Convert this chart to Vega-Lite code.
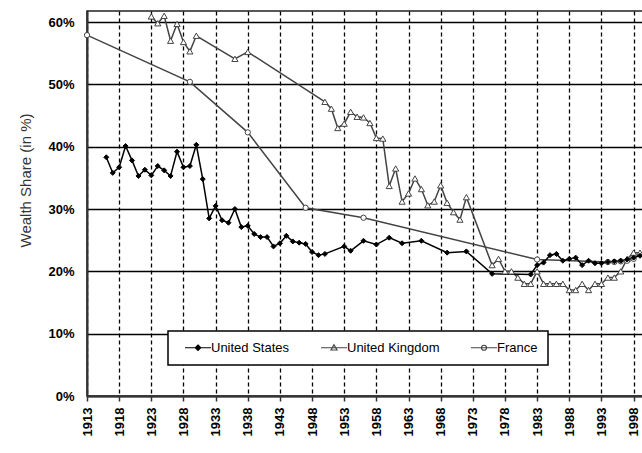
{
  "$schema": "https://vega.github.io/schema/vega-lite/v6.json",
  "width": 557,
  "height": 385,
  "autosize": "none",
  "padding": {"left": 87, "top": 11, "right": -2, "bottom": 57},
  "background": "white",
  "config": {
    "font": "Liberation Sans",
    "view": {"stroke": "#222", "strokeWidth": 1.5}
  },
  "data": {
    "values": [
      {"country": "France", "year": 1913, "share": 57.9},
      {"country": "France", "year": 1929, "share": 50.4},
      {"country": "France", "year": 1938, "share": 42.3},
      {"country": "France", "year": 1947, "share": 30.2},
      {"country": "France", "year": 1956, "share": 28.6},
      {"country": "France", "year": 1983, "share": 21.9},
      {"country": "France", "year": 1994, "share": 21.5},
      {"country": "France", "year": 1995, "share": 21.5},
      {"country": "France", "year": 1996, "share": 21.6},
      {"country": "France", "year": 1997, "share": 21.7},
      {"country": "France", "year": 1998, "share": 22.0},
      {"country": "United Kingdom", "year": 1923, "share": 60.9},
      {"country": "United Kingdom", "year": 1924, "share": 59.8},
      {"country": "United Kingdom", "year": 1925, "share": 61.0},
      {"country": "United Kingdom", "year": 1926, "share": 57.0},
      {"country": "United Kingdom", "year": 1927, "share": 59.7},
      {"country": "United Kingdom", "year": 1928, "share": 56.8},
      {"country": "United Kingdom", "year": 1929, "share": 55.3},
      {"country": "United Kingdom", "year": 1930, "share": 57.8},
      {"country": "United Kingdom", "year": 1936, "share": 54.1},
      {"country": "United Kingdom", "year": 1938, "share": 55.2},
      {"country": "United Kingdom", "year": 1950, "share": 47.2},
      {"country": "United Kingdom", "year": 1951, "share": 46.1},
      {"country": "United Kingdom", "year": 1952, "share": 43.0},
      {"country": "United Kingdom", "year": 1953, "share": 43.7},
      {"country": "United Kingdom", "year": 1954, "share": 45.6},
      {"country": "United Kingdom", "year": 1955, "share": 44.8},
      {"country": "United Kingdom", "year": 1956, "share": 44.7},
      {"country": "United Kingdom", "year": 1957, "share": 43.8},
      {"country": "United Kingdom", "year": 1958, "share": 41.4},
      {"country": "United Kingdom", "year": 1959, "share": 41.3},
      {"country": "United Kingdom", "year": 1960, "share": 33.7},
      {"country": "United Kingdom", "year": 1961, "share": 36.5},
      {"country": "United Kingdom", "year": 1962, "share": 31.2},
      {"country": "United Kingdom", "year": 1963, "share": 32.5},
      {"country": "United Kingdom", "year": 1964, "share": 34.9},
      {"country": "United Kingdom", "year": 1965, "share": 33.2},
      {"country": "United Kingdom", "year": 1966, "share": 30.6},
      {"country": "United Kingdom", "year": 1967, "share": 31.2},
      {"country": "United Kingdom", "year": 1968, "share": 33.8},
      {"country": "United Kingdom", "year": 1969, "share": 31.0},
      {"country": "United Kingdom", "year": 1970, "share": 29.5},
      {"country": "United Kingdom", "year": 1971, "share": 28.3},
      {"country": "United Kingdom", "year": 1972, "share": 31.9},
      {"country": "United Kingdom", "year": 1976, "share": 21},
      {"country": "United Kingdom", "year": 1977, "share": 22},
      {"country": "United Kingdom", "year": 1978, "share": 20},
      {"country": "United Kingdom", "year": 1979, "share": 20},
      {"country": "United Kingdom", "year": 1980, "share": 19},
      {"country": "United Kingdom", "year": 1981, "share": 18},
      {"country": "United Kingdom", "year": 1982, "share": 18},
      {"country": "United Kingdom", "year": 1983, "share": 20},
      {"country": "United Kingdom", "year": 1984, "share": 18},
      {"country": "United Kingdom", "year": 1985, "share": 18},
      {"country": "United Kingdom", "year": 1986, "share": 18},
      {"country": "United Kingdom", "year": 1987, "share": 18},
      {"country": "United Kingdom", "year": 1988, "share": 17},
      {"country": "United Kingdom", "year": 1989, "share": 17},
      {"country": "United Kingdom", "year": 1990, "share": 18},
      {"country": "United Kingdom", "year": 1991, "share": 17},
      {"country": "United Kingdom", "year": 1992, "share": 18},
      {"country": "United Kingdom", "year": 1993, "share": 18},
      {"country": "United Kingdom", "year": 1994, "share": 19},
      {"country": "United Kingdom", "year": 1995, "share": 19},
      {"country": "United Kingdom", "year": 1996, "share": 20},
      {"country": "United Kingdom", "year": 1997, "share": 22},
      {"country": "United Kingdom", "year": 1998, "share": 23},
      {"country": "United Kingdom", "year": 1999, "share": 23},
      {"country": "United States", "year": 1916, "share": 38.3},
      {"country": "United States", "year": 1917, "share": 35.8},
      {"country": "United States", "year": 1918, "share": 36.7},
      {"country": "United States", "year": 1919, "share": 40.1},
      {"country": "United States", "year": 1920, "share": 37.8},
      {"country": "United States", "year": 1921, "share": 35.3},
      {"country": "United States", "year": 1922, "share": 36.3},
      {"country": "United States", "year": 1923, "share": 35.4},
      {"country": "United States", "year": 1924, "share": 36.9},
      {"country": "United States", "year": 1925, "share": 36.2},
      {"country": "United States", "year": 1926, "share": 35.3},
      {"country": "United States", "year": 1927, "share": 39.2},
      {"country": "United States", "year": 1928, "share": 36.7},
      {"country": "United States", "year": 1929, "share": 36.9},
      {"country": "United States", "year": 1930, "share": 40.3},
      {"country": "United States", "year": 1931, "share": 34.8},
      {"country": "United States", "year": 1932, "share": 28.5},
      {"country": "United States", "year": 1933, "share": 30.5},
      {"country": "United States", "year": 1934, "share": 28.2},
      {"country": "United States", "year": 1935, "share": 27.8},
      {"country": "United States", "year": 1936, "share": 30.0},
      {"country": "United States", "year": 1937, "share": 27.1},
      {"country": "United States", "year": 1938, "share": 27.3},
      {"country": "United States", "year": 1939, "share": 26.0},
      {"country": "United States", "year": 1940, "share": 25.5},
      {"country": "United States", "year": 1941, "share": 25.5},
      {"country": "United States", "year": 1942, "share": 24.0},
      {"country": "United States", "year": 1943, "share": 24.5},
      {"country": "United States", "year": 1944, "share": 25.7},
      {"country": "United States", "year": 1945, "share": 24.8},
      {"country": "United States", "year": 1946, "share": 24.6},
      {"country": "United States", "year": 1947, "share": 24.4},
      {"country": "United States", "year": 1948, "share": 23.1},
      {"country": "United States", "year": 1949, "share": 22.6},
      {"country": "United States", "year": 1950, "share": 22.8},
      {"country": "United States", "year": 1953, "share": 24.0},
      {"country": "United States", "year": 1954, "share": 23.3},
      {"country": "United States", "year": 1956, "share": 24.9},
      {"country": "United States", "year": 1958, "share": 24.3},
      {"country": "United States", "year": 1960, "share": 25.4},
      {"country": "United States", "year": 1962, "share": 24.5},
      {"country": "United States", "year": 1965, "share": 24.9},
      {"country": "United States", "year": 1969, "share": 23.0},
      {"country": "United States", "year": 1972, "share": 23.2},
      {"country": "United States", "year": 1976, "share": 19.6},
      {"country": "United States", "year": 1982, "share": 19.5},
      {"country": "United States", "year": 1983, "share": 21.0},
      {"country": "United States", "year": 1984, "share": 21.4},
      {"country": "United States", "year": 1985, "share": 22.6},
      {"country": "United States", "year": 1986, "share": 22.8},
      {"country": "United States", "year": 1987, "share": 21.7},
      {"country": "United States", "year": 1988, "share": 22.0},
      {"country": "United States", "year": 1989, "share": 22.2},
      {"country": "United States", "year": 1990, "share": 21.0},
      {"country": "United States", "year": 1991, "share": 21.7},
      {"country": "United States", "year": 1992, "share": 21.3},
      {"country": "United States", "year": 1993, "share": 21.3},
      {"country": "United States", "year": 1994, "share": 21.5},
      {"country": "United States", "year": 1995, "share": 21.6},
      {"country": "United States", "year": 1996, "share": 21.7},
      {"country": "United States", "year": 1997, "share": 21.9},
      {"country": "United States", "year": 1998, "share": 22.2},
      {"country": "United States", "year": 1999, "share": 22.5}
    ]
  },
  "encoding": {
    "x": {
      "field": "year",
      "type": "quantitative",
      "scale": {"domain": [1913, 1999.62], "nice": false, "zero": false},
      "axis": {
        "title": null,
        "values": [1913, 1918, 1923, 1928, 1933, 1938, 1943, 1948, 1953, 1958, 1963, 1968, 1973, 1978, 1983, 1988, 1993, 1998],
        "format": "d",
        "grid": true,
        "gridColor": "#000",
        "gridWidth": 1.3,
        "gridDash": [4, 3],
        "domainColor": "#333",
        "domainWidth": 2,
        "tickColor": "#333",
        "tickWidth": 1.5,
        "tickSize": 5,
        "labelAngle": -90,
        "labelAlign": "right",
        "labelBaseline": "middle",
        "labelFont": "Liberation Sans",
        "labelFontSize": 13,
        "labelFontWeight": "bold",
        "labelColor": "#000",
        "labelPadding": 6,
        "labelFlush": false,
        "labelOverlap": false
      }
    },
    "y": {
      "field": "share",
      "type": "quantitative",
      "scale": {"domain": [0, 61.77], "nice": false},
      "axis": {
        "title": "Wealth Share (in %)",
        "values": [0, 10, 20, 30, 40, 50, 60],
        "labelExpr": "datum.value + '%'",
        "grid": true,
        "gridColor": "#000",
        "gridWidth": 1.3,
        "domainColor": "#333",
        "domainWidth": 2,
        "ticks": false,
        "labelPadding": 13,
        "labelFont": "Liberation Sans",
        "labelFontSize": 13,
        "labelFontWeight": "bold",
        "labelColor": "#000",
        "titleFont": "Liberation Sans",
        "titleFontSize": 15,
        "titleFontWeight": "normal",
        "titleColor": "#333",
        "titleX": -57,
        "titleY": 169,
        "titleAngle": -90,
        "titleAlign": "center",
        "titleBaseline": "alphabetic"
      }
    }
  },
  "layer": [
    {
      "mark": {"type": "line", "strokeWidth": 1.5},
      "encoding": {
        "stroke": {
          "field": "country",
          "type": "nominal",
          "scale": {"domain": ["United States", "United Kingdom", "France"], "range": ["#000000", "#444444", "#444444"]},
          "legend": {
            "orient": "none",
            "legendX": 81,
            "legendY": 320,
            "direction": "horizontal",
            "title": null,
            "padding": 10,
            "fillColor": "white",
            "strokeColor": "#000",
            "symbolSize": 100,
            "labelFont": "Liberation Sans",
            "labelFontSize": 13,
            "labelColor": "#000",
            "labelOffset": 20,
            "columnPadding": 24,
            "encode": {
              "legend": {"update": {"strokeWidth": {"value": 1.5}}},
              "symbols": {
                "update": {
                  "shape": {"signal": "datum.value === 'United States' ? 'M0.1,0H5.3M2.7,-0.55L3.25,0L2.7,0.55L2.15,0Z' : datum.value === 'United Kingdom' ? 'M0.1,0H5.3M2.7,-0.6L3.3,0.45L2.1,0.45Z' : 'M0.1,0H5.3M3.2,0A0.5,0.5 0 1,1 2.2,0A0.5,0.5 0 1,1 3.2,0Z'"},
                  "fill": {"signal": "datum.value === 'United States' ? '#000' : '#fff'"},
                  "strokeWidth": {"value": 1.2},
                  "size": {"value": 100}
                }
              }
            }
          }
        }
      }
    },
    {
      "transform": [{"filter": "datum.country === 'United Kingdom'"}],
      "mark": {"type": "point", "shape": "triangle-up", "size": 38, "strokeWidth": 1, "opacity": 1, "stroke": "#444", "fill": "#fff", "filled": true}
    },
    {
      "transform": [{"filter": "datum.country === 'France'"}],
      "mark": {"type": "point", "shape": "circle", "size": 28, "strokeWidth": 1, "opacity": 1, "stroke": "#444", "fill": "#fff", "filled": true}
    },
    {
      "transform": [{"filter": "datum.country === 'United States'"}],
      "mark": {"type": "point", "shape": "diamond", "size": 25, "strokeWidth": 1, "opacity": 1, "stroke": "#000", "fill": "#000", "filled": true}
    }
  ]
}
